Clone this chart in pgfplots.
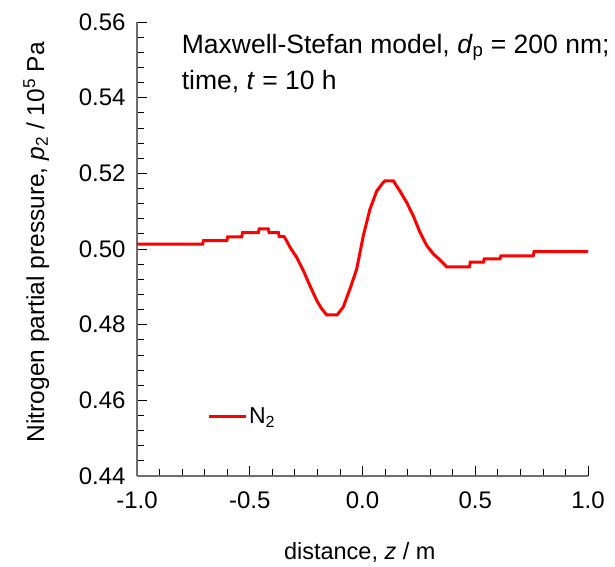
\documentclass[border=0pt]{standalone}
\usepackage{pgfplots}
\pgfplotsset{compat=1.18}
\usepackage{fontspec}
\setmainfont{Liberation Sans}
\definecolor{axgray}{RGB}{110,110,110}
\begin{document}
\begin{tikzpicture}
\useasboundingbox (-137pt,-90pt) rectangle (478pt,476pt);
\begin{axis}[
  scale only axis,
  width=451pt, height=454pt,
  xmin=-1, xmax=1, ymin=0.44, ymax=0.56,
  axis x line*=bottom, axis y line*=left,
  axis line style={axgray, line width=1.2pt},
  tick style={black, line width=0.8pt},
  major tick length=10pt, minor tick length=7pt,
  tick align=inside,
  xtick={-1,-0.5,0,0.5,1}, minor x tick num=4,
  ytick={0.44,0.46,...,0.561}, minor y tick num=4,
  /pgf/number format/assume math mode=true,
  tick label style={font=\fontsize{24}{28}\selectfont},
  xticklabel style={/pgf/number format/fixed, /pgf/number format/precision=1, /pgf/number format/fixed zerofill, yshift=-12pt},
  yticklabel style={/pgf/number format/fixed, /pgf/number format/precision=2, /pgf/number format/fixed zerofill, xshift=-8pt},
  scaled y ticks=false, scaled x ticks=false,
  xlabel={distance, \textit{z} / m},
  xlabel style={at={(axis description cs:0.494,0)}, anchor=base, yshift=-83pt, font=\fontsize{23.5}{27}\selectfont},
  ylabel={Nitrogen partial pressure, \textit{p}\textsubscript{2} / 10\textsuperscript{5} Pa},
  ylabel style={at={(axis description cs:-0.206,0.515)}, anchor=base, font=\fontsize{24.5}{28}\selectfont},
  clip=false,
  legend style={at={(axis cs:-0.69,0.4558)}, anchor=west, draw=none, fill=none, inner sep=0pt, font=\fontsize{23}{27}\selectfont, cells={anchor=west, inner xsep=6pt}},
  legend image code/.code={\draw[#1] (0pt,0pt) -- (37pt,0pt);},
]
\addplot[red, line width=3pt] coordinates {
(-1.0,0.5013) (-0.709,0.5013) (-0.705,0.5022) (-0.602,0.5022) (-0.598,0.5032) (-0.536,0.5032) (-0.532,0.5043) (-0.462,0.5043) (-0.458,0.5053) (-0.418,0.5053) (-0.414,0.5043) (-0.373,0.5043) (-0.369,0.5033) (-0.348,0.5033) (-0.335,0.5020) (-0.321,0.5004) (-0.292,0.4978) (-0.2625,0.4943) (-0.233,0.4903) (-0.203,0.4864) (-0.181,0.4842) (-0.159,0.4826) (-0.112,0.4826) (-0.085,0.4847) (-0.0554,0.4895) (-0.0257,0.4947) (0.0036,0.5035) (0.033,0.5105) (0.063,0.5153) (0.092,0.5176) (0.10,0.518) (0.137,0.518) (0.166,0.5153) (0.196,0.5123) (0.225,0.5088) (0.255,0.5044) (0.285,0.5009) (0.314,0.4987) (0.344,0.4971) (0.373,0.4953) (0.474,0.4953) (0.478,0.4965) (0.536,0.4965) (0.540,0.4974) (0.610,0.4974) (0.614,0.4982) (0.757,0.4982) (0.761,0.4993) (1.0,0.4993)
};
\addlegendentry{N\textsubscript{2}}
\node[anchor=base west, inner sep=0pt, font=\fontsize{26.5}{30}\selectfont] at (axis cs:-0.802,0.5518) {Maxwell-Stefan model, \textit{d}\textsubscript{p} = 200 nm;};
\node[anchor=base west, inner sep=0pt, font=\fontsize{26.5}{30}\selectfont] at (axis cs:-0.802,0.5421) {time, \textit{t} = 10 h};
\end{axis}
\end{tikzpicture}
\end{document}
